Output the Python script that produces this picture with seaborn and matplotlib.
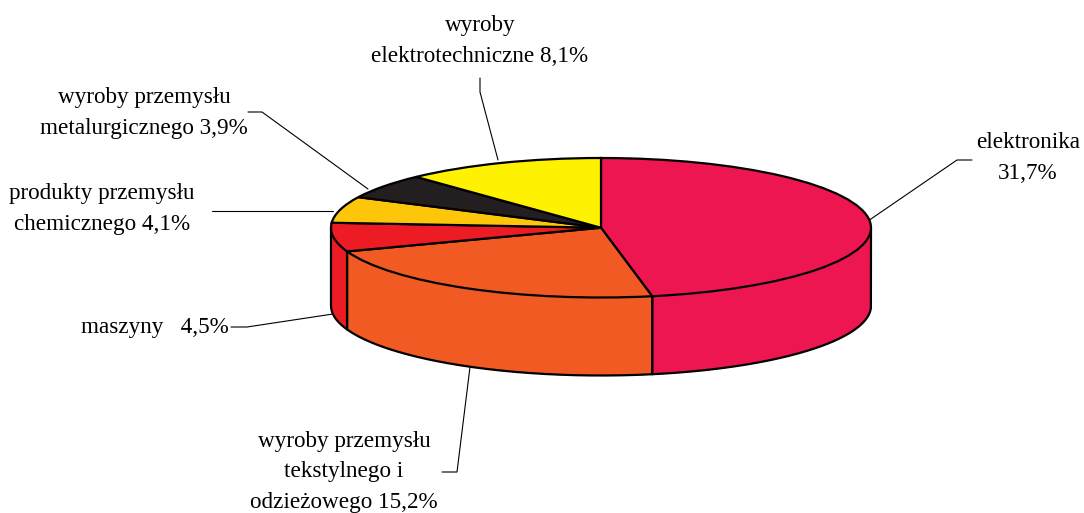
import numpy as np
import matplotlib
matplotlib.use("Agg")
import matplotlib.pyplot as plt
import seaborn as sns

sns.set_theme(style="white")
plt.rcParams['font.family'] = ['Liberation Serif', 'DejaVu Serif']

categories = ["elektronika", "wyroby przemysłu tekstylnego i odzieżowego", "maszyny",
              "produkty przemysłu chemicznego", "wyroby przemysłu metalurgicznego",
              "wyroby elektrotechniczne"]
values = [31.7, 15.2, 4.5, 4.1, 3.9, 8.1]
colors = ["#EE1651", "#F15A22", "#ED1C24", "#FDC60B", "#231F20", "#FFF200"]
labels = ["elektronika\n31,7%", "wyroby przemysłu\ntekstylnego i\nodzieżowego 15,2%", "maszyny   4,5%",
          "produkty przemysłu\nchemicznego 4,1%", "wyroby przemysłu\nmetalurgicznego 3,9%",
          "wyroby\nelektrotechniczne 8,1%"]

W, H = 1084, 513
fig = plt.figure(figsize=(W / 100, H / 100), dpi=100, facecolor="white")

# overlay in pixel coordinates for labels and leader lines
bg = fig.add_axes([0, 0, 1, 1])
bg.set_xlim(0, W); bg.set_ylim(H, 0); bg.axis("off")

# pie top occupies this pixel box
x0, x1, y0, y1 = 331, 871, 158, 297.5
ax = fig.add_axes([x0 / W, 1 - y1 / H, (x1 - x0) / W, (y1 - y0) / H])
ax.patch.set_alpha(0)
depth = 78 / ((y1 - y0) / 2)

total = sum(values)
edges = np.cumsum([0] + values) / total * 2 * np.pi
for a, b, c in zip(edges[:-1], edges[1:], colors):
    lo, hi = max(a, np.pi / 2), min(b, 3 * np.pi / 2)
    if hi <= lo:
        continue
    t = np.linspace(lo, hi, 200)
    xs, ys = np.sin(t), np.cos(t)
    ax.fill_between(xs, ys, ys - depth, color=c, lw=0, clip_on=False, zorder=1)
    ax.plot(np.r_[xs[0], xs, xs[-1]], np.r_[ys[0], ys - depth, ys[-1]], color="black",
            lw=1.6, clip_on=False, zorder=2, solid_joinstyle="round")

ax.pie(values, colors=colors, startangle=90, counterclock=False, radius=1,
       wedgeprops=dict(edgecolor="black", linewidth=1.6, clip_on=False, zorder=3))
ax.set_aspect("auto")
ax.set_xlim(-1, 1); ax.set_ylim(-1, 1)
ax.axis("off")

leaders = [
    [(868, 221), (957, 160), (972, 160)],
    [(470, 367), (457, 472), (442, 472)],
    [(333, 314), (247, 327), (231, 327)],
    [(333, 211), (212, 211)],
    [(368, 189), (262, 112), (248, 112)],
    [(498, 160), (480, 92), (480, 78)],
]
for pts in leaders:
    px, py = zip(*pts)
    bg.plot(px, py, color="black", lw=0.8)

positions = [(1028, 158), (344, 472), (155, 328), (102, 209), (144, 113), (480, 41)]
for (tx, ty), s in zip(positions, labels):
    bg.text(tx, ty, s, ha="center", va="center", fontsize=16.7, color="black",
            linespacing=1.58, family=['Liberation Serif', 'DejaVu Serif'])

fig.savefig("out.png", dpi=100, facecolor="white")
